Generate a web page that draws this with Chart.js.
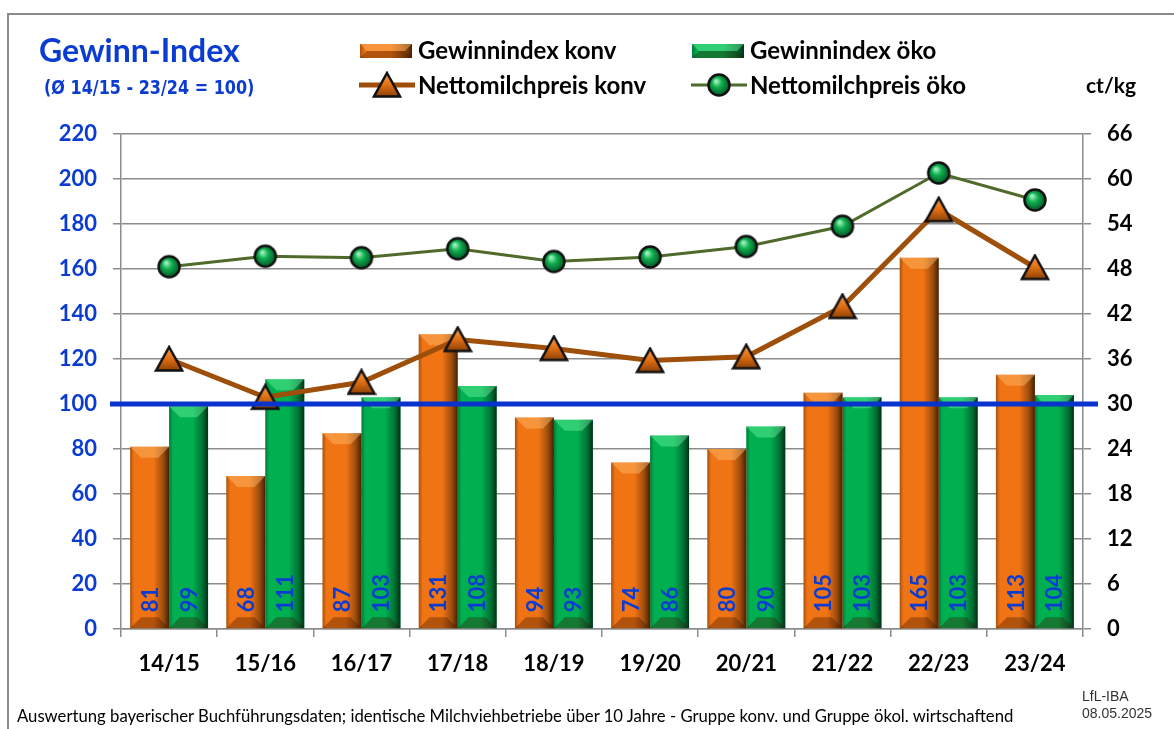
<!DOCTYPE html>
<html>
<head>
<meta charset="utf-8">
<script src="https://cdn.jsdelivr.net/npm/chart.js@4.4.1/dist/chart.umd.min.js"></script>
<style>
body { margin: 0; background: #fff; }
#wrap { position: relative; width: 1174px; height: 729px; overflow: hidden; font-family: Lato, sans-serif; }
#frame { position: absolute; left: 7px; top: 13px; width: 1300px; height: 900px; border-left: 2px solid #8a8a8a; border-top: 2px solid #8a8a8a; }
#c { position: absolute; left: 0; top: 0; }
.t { position: absolute; white-space: nowrap; line-height: 1; transform: translateY(-50%); }
.lg { font-size: 24px; font-weight: bold; }
.sym { position: absolute; }
</style>
</head>
<body>
<div id="wrap">
  <div id="frame"></div>
  <canvas id="c" width="1174" height="729"></canvas>

  <div class="t" style="left:39px;top:50px;font-size:32px;font-weight:bold;color:#0b3cd2;">Gewinn-Index</div>
  <div class="t" style="left:44px;top:87px;font-size:20px;font-weight:bold;color:#0b3cd2;font-family:'Liberation Sans Narrow','DejaVu Sans Condensed',sans-serif;transform-origin:left center;transform:translateY(-50%) scaleX(0.89);">(Ø 14/15 - 23/24 = 100)</div>

  <canvas class="sym" id="lgKonv" width="52" height="16" style="left:360px;top:43px;"></canvas>
  <div class="t lg" style="left:418px;top:50px;">Gewinnindex konv</div>
  <canvas class="sym" id="lgOeko" width="52" height="16" style="left:692px;top:43px;"></canvas>
  <div class="t lg" style="left:750px;top:50px;">Gewinnindex öko</div>

  <canvas class="sym" id="lgMilchKonv" width="56" height="30" style="left:359px;top:70px;"></canvas>
  <div class="t lg" style="left:418px;top:85px;">Nettomilchpreis konv</div>
  <canvas class="sym" id="lgMilchOeko" width="56" height="30" style="left:691px;top:70px;"></canvas>
  <div class="t lg" style="left:750px;top:85px;">Nettomilchpreis öko</div>

  <div class="t" style="left:1086px;top:84px;font-size:21px;font-weight:bold;">ct/kg</div>

  <div class="t" style="left:17px;top:716px;font-size:16.7px;">Auswertung bayerischer Buchführungsdaten; identische Milchviehbetriebe über 10 Jahre - Gruppe konv. und Gruppe ökol. wirtschaftend</div>
  <div class="t" style="left:1082px;top:696px;font-size:14px;color:#333;font-family:'Liberation Sans',sans-serif;">LfL-IBA</div>
  <div class="t" style="left:1082px;top:713px;font-size:14px;color:#333;font-family:'Liberation Sans',sans-serif;">08.05.2025</div>
</div>

<script>
// Daten
const seasons = ['14/15', '15/16', '16/17', '17/18', '18/19', '19/20', '20/21', '21/22', '22/23', '23/24'];
const gewinnKonv = [81, 68, 87, 131, 94, 74, 80, 105, 165, 113];
const gewinnOeko = [99, 111, 103, 108, 93, 86, 90, 103, 103, 104];
const milchKonv = [36.0, 30.9, 32.9, 38.6, 37.4, 35.8, 36.3, 43.0, 55.9, 48.2]; // ct/kg
const milchOeko = [48.3, 49.7, 49.5, 50.7, 49.0, 49.6, 51.0, 53.7, 60.8, 57.2]; // ct/kg
const referenzIndex = 100;

const blau = '#0b3cd2';
const orange = '#f07414';
const gruen = '#00b050';
const fontBold = { family: 'Lato', weight: 'bold', size: 22 };

// Marker als kleine Canvas-Bilder
function makeTriangle() {
    const c = document.createElement('canvas');
    c.width = 30; c.height = 28;
    const g = c.getContext('2d');
    const grad = g.createLinearGradient(0, 2, 0, 26);
    grad.addColorStop(0, '#f8a050');
    grad.addColorStop(0.5, '#e06e12');
    grad.addColorStop(1, '#8a4006');
    g.beginPath();
    g.moveTo(15, 2);
    g.lineTo(28, 25.5);
    g.lineTo(2, 25.5);
    g.closePath();
    g.fillStyle = grad;
    g.fill();
    g.lineWidth = 2.5;
    g.lineJoin = 'miter';
    g.strokeStyle = '#111';
    g.stroke();
    return c;
}

function makeDot() {
    const c = document.createElement('canvas');
    c.width = 26; c.height = 26;
    const g = c.getContext('2d');
    const grad = g.createRadialGradient(10, 9, 1, 13, 13, 12);
    grad.addColorStop(0, '#9af0b8');
    grad.addColorStop(0.35, '#10b050');
    grad.addColorStop(1, '#00461e');
    g.beginPath();
    g.arc(13, 13, 10.5, 0, Math.PI * 2);
    g.fillStyle = grad;
    g.fill();
    g.lineWidth = 2.5;
    g.strokeStyle = '#111';
    g.stroke();
    return c;
}

const triMarker = makeTriangle();
const dotMarker = makeDot();

// 3D-Optik der Saeulen
function shadeBar(ctx, x0, top, w, bot, light) {
    const x1 = x0 + w;
    const g = ctx.createLinearGradient(x0, 0, x1, 0);
    g.addColorStop(0, 'rgba(0,0,0,0.30)');
    g.addColorStop(0.1, 'rgba(0,0,0,0)');
    g.addColorStop(0.6, 'rgba(0,0,0,0)');
    g.addColorStop(0.85, 'rgba(0,0,0,0.35)');
    g.addColorStop(1, 'rgba(0,0,0,0.72)');
    ctx.fillStyle = g;
    ctx.fillRect(x0, top, w, bot - top);
    const b = Math.min(11, (bot - top) / 2);
    ctx.fillStyle = light;
    ctx.beginPath();
    ctx.moveTo(x0, top);
    ctx.lineTo(x1, top);
    ctx.lineTo(x1 - b, top + b);
    ctx.lineTo(x0 + b, top + b);
    ctx.closePath();
    ctx.fill();
    ctx.fillStyle = 'rgba(60,20,0,0.35)';
    ctx.beginPath();
    ctx.moveTo(x0, bot);
    ctx.lineTo(x1, bot);
    ctx.lineTo(x1 - b, bot - b);
    ctx.lineTo(x0 + b, bot - b);
    ctx.closePath();
    ctx.fill();
}

const barDeko = {
    id: 'barDeko',
    afterDatasetDraw(chart, args) {
        const meta = args.meta;
        if (meta.type !== 'bar') return;
        const ctx = chart.ctx;
        const light = meta.index === 0 ? 'rgba(255,190,110,0.45)' : 'rgba(120,255,170,0.4)';
        ctx.save();
        meta.data.forEach(el => {
            shadeBar(ctx, el.x - el.width / 2, el.y, el.width, el.base, light);
        });
        ctx.restore();
    },
    afterDatasetsDraw(chart) {
        const ctx = chart.ctx;
        const area = chart.chartArea;
        // Linie bei 100
        const y100 = chart.scales.y.getPixelForValue(referenzIndex);
        ctx.save();
        ctx.strokeStyle = '#0833cc';
        ctx.lineWidth = 5;
        ctx.beginPath();
        ctx.moveTo(area.left - 11, y100);
        ctx.lineTo(area.right + 15, y100);
        ctx.stroke();
        // Werte in den Saeulen
        ctx.fillStyle = blau;
        ctx.font = 'bold 22px Lato';
        ctx.textAlign = 'left';
        ctx.textBaseline = 'middle';
        [0, 1].forEach(i => {
            const meta = chart.getDatasetMeta(i);
            const vals = chart.data.datasets[i].data;
            meta.data.forEach((el, j) => {
                ctx.save();
                ctx.translate(el.x + 1, el.base - 16);
                ctx.rotate(-Math.PI / 2);
                ctx.fillText(vals[j], 0, 0);
                ctx.restore();
            });
        });
        ctx.restore();
    }
};

var ctx = document.getElementById('c').getContext('2d');
var chart = new Chart(ctx, {
    type: 'bar',
    data: {
        labels: seasons,
        datasets: [
            {
                label: 'Gewinnindex konv',
                data: gewinnKonv,
                backgroundColor: orange,
                yAxisID: 'y',
                order: 2,
                categoryPercentage: 0.81,
                barPercentage: 1
            },
            {
                label: 'Gewinnindex öko',
                data: gewinnOeko,
                backgroundColor: gruen,
                yAxisID: 'y',
                order: 2,
                categoryPercentage: 0.81,
                barPercentage: 1
            },
            {
                type: 'line',
                label: 'Nettomilchpreis konv',
                data: milchKonv,
                yAxisID: 'y1',
                borderColor: '#9e4f0a',
                borderWidth: 5,
                pointStyle: triMarker,
                pointRadius: 13,
                tension: 0,
                order: 1
            },
            {
                type: 'line',
                label: 'Nettomilchpreis öko',
                data: milchOeko,
                yAxisID: 'y1',
                borderColor: '#4f6a2a',
                borderWidth: 3,
                pointStyle: dotMarker,
                pointRadius: 12,
                tension: 0,
                order: 0
            }
        ]
    },
    options: {
        responsive: false,
        animation: false,
        devicePixelRatio: 1,
        layout: { padding: { top: 134, left: 0, right: 0, bottom: 0 } },
        plugins: {
            legend: { display: false },
            tooltip: { enabled: false }
        },
        scales: {
            x: {
                offset: true,
                grid: { offset: true, drawOnChartArea: false, tickLength: 8, color: '#8c8c8c', lineWidth: 1.5 },
                border: { color: '#8c8c8c', width: 1.5 },
                ticks: { color: '#000', font: fontBold, padding: 14 },
                afterFit(s) { s.height = 100; }
            },
            y: {
                position: 'left',
                min: 0,
                max: 220,
                ticks: { stepSize: 20, color: blau, font: fontBold, padding: 16 },
                grid: { color: '#8c8c8c', lineWidth: 1.5, tickLength: 8 },
                border: { color: '#8c8c8c', width: 1.5 },
                afterFit(s) { s.width = 121; }
            },
            y1: {
                position: 'right',
                min: 0,
                max: 66,
                ticks: { stepSize: 6, color: '#000', font: fontBold, padding: 16 },
                grid: { drawOnChartArea: false, color: '#8c8c8c', lineWidth: 1.5, tickLength: 8 },
                border: { color: '#8c8c8c', width: 1.5 },
                afterFit(s) { s.width = 91; }
            }
        }
    },
    plugins: [barDeko]
});

// Legendensymbole
function legendBar(id, color, light) {
    const g = document.getElementById(id).getContext('2d');
    g.fillStyle = color;
    g.fillRect(0, 1, 52, 14);
    shadeBar(g, 0, 1, 52, 15, light);
}
legendBar('lgKonv', orange, 'rgba(255,190,110,0.45)');
legendBar('lgOeko', gruen, 'rgba(120,255,170,0.4)');

function legendLine(id, color, width, marker) {
    const g = document.getElementById(id).getContext('2d');
    g.strokeStyle = color;
    g.lineWidth = width;
    g.beginPath();
    g.moveTo(0, 15);
    g.lineTo(56, 15);
    g.stroke();
    g.drawImage(marker, 28 - marker.width / 2, 15 - marker.height / 2);
}
legendLine('lgMilchKonv', '#9e4f0a', 5, triMarker);
legendLine('lgMilchOeko', '#4f6a2a', 3, dotMarker);
</script>
</body>
</html>
